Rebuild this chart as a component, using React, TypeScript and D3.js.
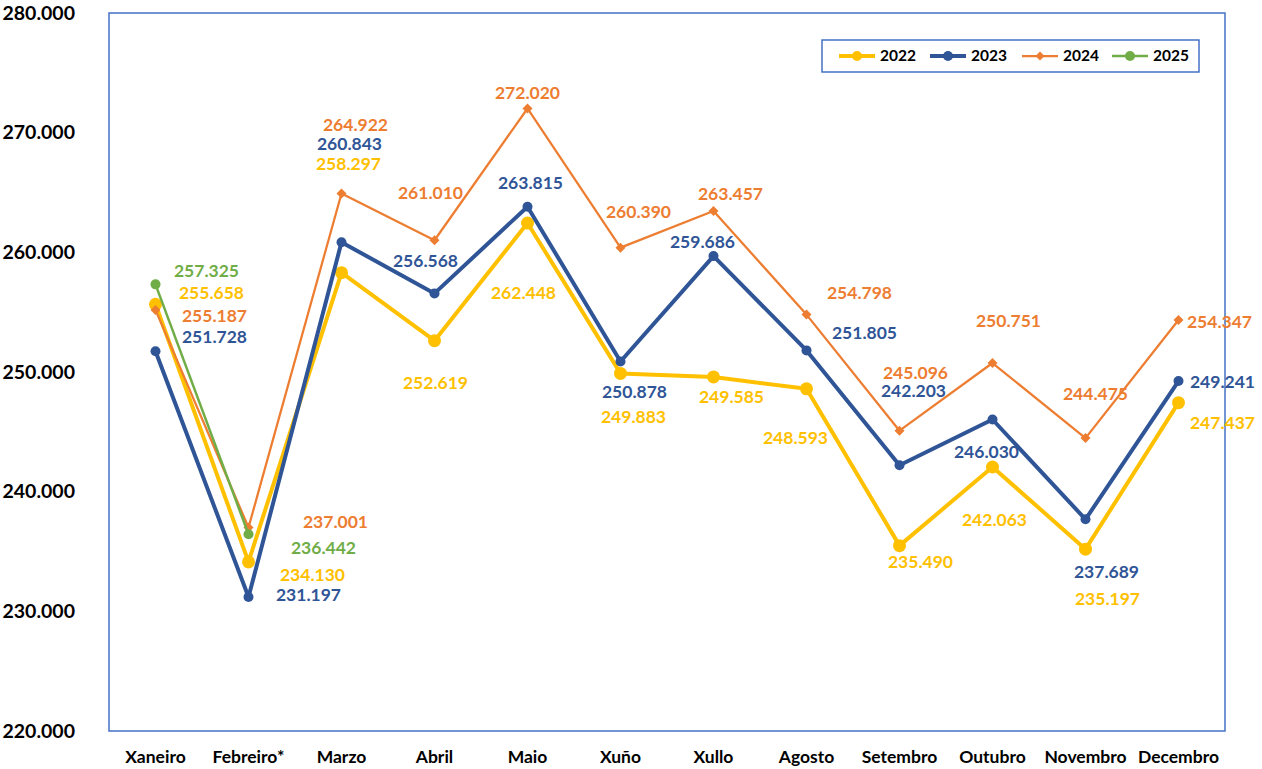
import * as d3 from "d3";

const months = [
  "Xaneiro", "Febreiro*", "Marzo", "Abril", "Maio", "Xuño",
  "Xullo", "Agosto", "Setembro", "Outubro", "Novembro", "Decembro",
];
const y2022 = [255658, 234130, 258297, 252619, 262448, 249883, 249585, 248593, 235490, 242063, 235197, 247437];
const y2023 = [251728, 231197, 260843, 256568, 263815, 250878, 259686, 251805, 242203, 246030, 237689, 249241];
const y2024 = [255187, 237001, 264922, 261010, 272020, 260390, 263457, 254798, 245096, 250751, 244475, 254347];
const y2025 = [257325, 236442];
const yTicks = [220000, 230000, 240000, 250000, 260000, 270000, 280000];

// hand placed label offsets (dx, dy from point)
const off2022 = [[56, -11], [64, 13], [7, -109], [1, 42], [-4, 70], [13, 43], [18, 20], [-11, 49], [21, 16], [2, 53], [22, 50], [44, 20]];
const off2023 = [[59, -14], [60, -2], [8, -98], [-9, -33], [3, -24], [14, 30], [-11, -14], [58, -18], [14, -74], [-6, 32], [21, 53], [44, 1]];
const off2024 = [[59, 6], [87, -6], [14, -69], [-4, -47], [0, -16], [18, -36], [17, -17], [53, -22], [16, -58], [16, -42], [10, -44], [41, 2]];
const off2025 = [[51, -13], [75, 14]];

const series = [
  { name: "2022", values: y2022, offs: off2022, color: "#FFC000", width: 4, marker: "circle", r: 6.5 },
  { name: "2023", values: y2023, offs: off2023, color: "#2F5597", width: 4, marker: "circle", r: 5 },
  { name: "2024", values: y2024, offs: off2024, color: "#ED7D31", width: 2.25, marker: "diamond", r: 5 },
  { name: "2025", values: y2025, offs: off2025, color: "#70AD47", width: 2.5, marker: "circle", r: 5 },
];

const fmt = (v: number) => d3.format(",")(v).replace(/,/g, ".");
const font = "Lato, 'Open Sans', sans-serif";

function Marker({ kind, x, y, r, color }: any) {
  if (kind === "diamond") {
    const p = d3.symbol(d3.symbolSquare, r * r * 2)();
    return <path d={p || ""} transform={`translate(${x},${y}) rotate(45)`} fill={color} />;
  }
  return <circle cx={x} cy={y} r={r} fill={color} />;
}

export default function App() {
  const w = 1262, h = 769;
  const plot = { left: 109, right: 1225, top: 13, bottom: 731 };

  const x = d3.scaleBand().domain(months).range([plot.left, plot.right]);
  const cx = (m: string) => x(m)! + x.bandwidth() / 2;
  const y = d3.scaleLinear().domain([220000, 280000]).range([plot.bottom, plot.top]);

  const legendX = [839, 930, 1022, 1112];

  return (
    <svg width={w} height={h} style={{ position: "absolute", left: 0, top: 0, background: "#fff" }} fontFamily={font}>
      <rect x={plot.left} y={plot.top} width={plot.right - plot.left} height={plot.bottom - plot.top}
        fill="none" stroke="#4472C4" strokeWidth={1.5} />

      {yTicks.map((t) => (
        <text key={t} x={75} y={y(t)} dy="0.35em" textAnchor="end" fontSize={19.5} fontWeight="bold" fill="#000">
          {fmt(t)}
        </text>
      ))}
      {months.map((m) => (
        <text key={m} x={cx(m)} y={757} dy="0.35em" textAnchor="middle" fontSize={17.5} fontWeight="bold" fill="#000">
          {m}
        </text>
      ))}

      {series.map((s) => {
        const line = d3.line<number>().x((_, i) => cx(months[i])).y((d) => y(d));
        return (
          <g key={s.name}>
            <path d={line(s.values) || ""} fill="none" stroke={s.color} strokeWidth={s.width} strokeLinejoin="round" />
            {s.values.map((v, i) => (
              <Marker key={i} kind={s.marker} x={cx(months[i])} y={y(v)} r={s.r} color={s.color} />
            ))}
          </g>
        );
      })}

      {series.map((s) => (
        <g key={s.name + "l"}>
          {s.values.map((v, i) => (
            <text key={i} x={cx(months[i]) + s.offs[i][0]} y={y(v) + s.offs[i][1]} dy="0.35em"
              textAnchor="middle" fontSize={17.5} fontWeight="bold" fill={s.color}>
              {fmt(v)}
            </text>
          ))}
        </g>
      ))}

      <rect x={822} y={40} width={377} height={32} fill="#fff" stroke="#4472C4" strokeWidth={1.5} />
      {series.map((s, i) => (
        <g key={s.name + "g"} transform={`translate(${legendX[i]},56)`}>
          <line x1={0} x2={36} stroke={s.color} strokeWidth={s.width} />
          <Marker kind={s.marker} x={18} y={0} r={s.marker === "diamond" ? 4.5 : 5} color={s.color} />
          <text x={41} dy="0.35em" fontSize={15.5} fontWeight="bold" fill="#000">{s.name}</text>
        </g>
      ))}
    </svg>
  );
}
